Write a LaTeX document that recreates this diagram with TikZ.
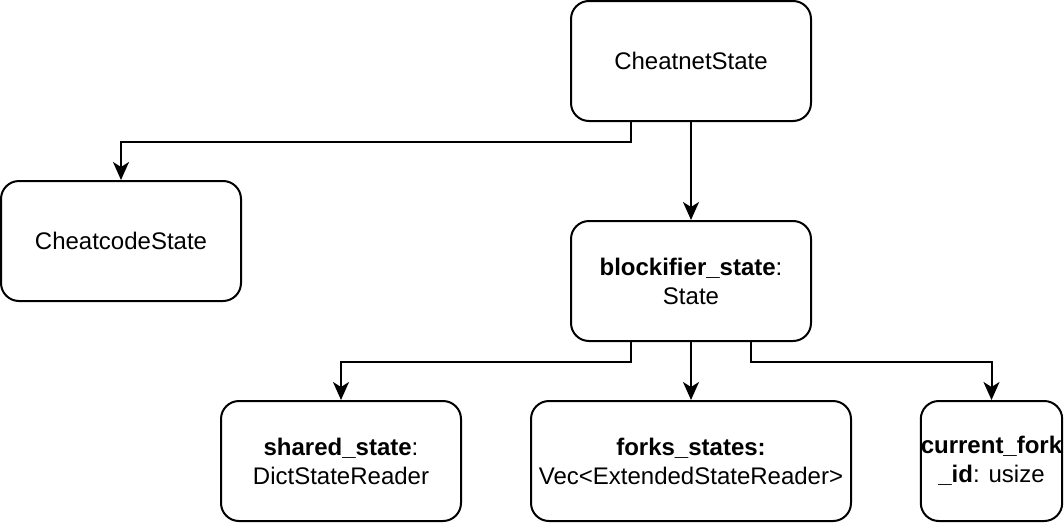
\documentclass[tikz,border=0pt]{standalone}
\usepackage{fontspec}
\setmainfont{Liberation Sans}
\usetikzlibrary{arrows.meta}
\begin{document}
\begin{tikzpicture}[x=1pt,y=-1pt,
  box/.style={draw, line width=2pt, rounded corners=18pt, align=center,
    font=\fontsize{24}{29}\selectfont, inner sep=0pt, minimum height=120pt},
  conn/.style={line width=2pt, -{Stealth[length=18pt,width=16pt,inset=5pt]}}]
\fill[white] (0,0) rectangle (1064,522);
\useasboundingbox (0,0) rectangle (1064,522);
\node[box, minimum width=240pt] (cn) at (691,61) {CheatnetState};
\node[box, minimum width=240pt] (cc) at (121,241) {CheatcodeState};
\node[box, minimum width=240pt] (bs) at (691,281) {\textbf{blockifier\_state}:\\State};
\node[box, minimum width=240pt] (ss) at (341,461) {\textbf{shared\_state}:\\DictStateReader};
\node[box, minimum width=320pt] (fs) at (691,461) {\textbf{forks\_states:}\\Vec<ExtendedStateReader>};
\node[box, minimum width=140pt] (cf) at (991.5,461) {\textbf{current\_fork}\\\textbf{\_id}: usize};
\draw[conn] ([xshift=-60pt]cn.south) -- ++(0,20) -| (cc.north);
\draw[conn] (cn.south) -- (bs.north);
\draw[conn] ([xshift=-60pt]bs.south) -- ++(0,20) -| (ss.north);
\draw[conn] (bs.south) -- (fs.north);
\draw[conn] ([xshift=60pt]bs.south) -- ++(0,20) -| (cf.north);
\end{tikzpicture}
\end{document}
